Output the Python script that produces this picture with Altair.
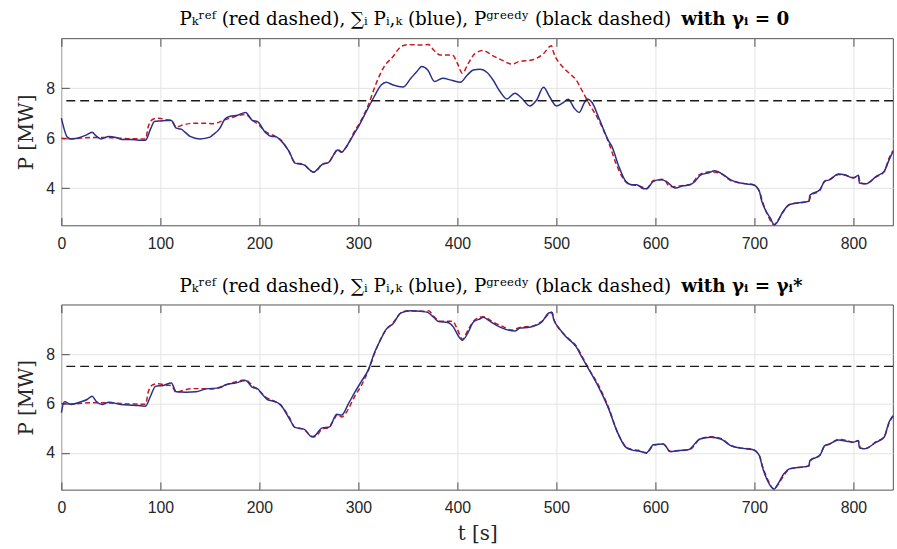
import altair as alt
import pandas as pd

# ---------------- data ----------------
t_ref = [0, 10, 30, 50, 70, 85, 88, 93, 98, 106, 111, 116, 123, 133, 143, 153, 163, 173, 186, 193,
         201, 206, 216, 221, 230, 236, 245, 250, 255, 258, 263, 270, 275, 279, 283, 288, 296, 303,
         310, 318, 326, 335, 343, 350, 363, 371, 376, 383, 395, 400, 405, 411, 418, 426, 436, 445,
         455, 463, 475, 486, 495, 497, 506, 513, 520, 526, 533, 543, 553, 561, 570, 576, 583, 591,
         598, 608, 615, 623, 635, 645, 656, 666, 676, 686, 698, 705, 708, 713, 720, 723, 730, 736,
         750, 755, 757, 766, 771, 776, 785, 793, 800, 805, 807, 812, 823, 831, 836, 840]
p_ref = [6.0, 5.98, 6.03, 6.02, 5.98, 5.97, 6.5, 6.77, 6.8, 6.74, 6.72, 6.45, 6.53, 6.6, 6.6, 6.58,
         6.7, 6.84, 6.95, 6.72, 6.47, 6.27, 6.07, 5.95, 5.45, 5.02, 4.95, 4.75, 4.64, 4.7, 4.95,
         5.03, 5.33, 5.55, 5.45, 5.65, 6.27, 6.73, 7.33, 8.2, 8.87, 9.27, 9.67, 9.75, 9.73, 9.75,
         9.53, 9.33, 9.33, 9.0, 8.6, 9.0, 9.4, 9.51, 9.3, 9.13, 8.97, 9.08, 9.13, 9.35, 9.7, 9.45,
         8.87, 8.6, 8.33, 7.9, 7.38, 6.7, 5.8, 4.9, 4.25, 4.13, 4.1, 3.98, 4.3, 4.35, 4.05, 4.08,
         4.14, 4.55, 4.65, 4.58, 4.3, 4.2, 4.14, 3.88, 3.48, 2.95, 2.53, 2.66, 3.1, 3.35, 3.43,
         3.47, 3.7, 3.9, 4.28, 4.35, 4.54, 4.5, 4.42, 4.5, 4.2, 4.17, 4.45, 4.65, 5.2, 5.5]

t_top = [0, 6, 10, 16, 25, 31, 35, 40, 48, 55, 61, 70, 78, 85, 90, 94, 100, 106, 111, 116, 121,
         126, 130, 140, 150, 153, 160, 165, 170, 178, 186, 193, 198, 206, 213, 216, 221, 230, 236,
         245, 250, 255, 258, 263, 270, 275, 279, 283, 288, 295, 301, 308, 316, 323, 328, 335, 345,
         353, 359, 364, 370, 377, 385, 395, 403, 410, 416, 423, 430, 436, 443, 450, 458, 465, 473,
         480, 487, 493, 500, 506, 512, 518, 523, 528, 531, 536, 543, 553, 556, 563, 570, 576, 581,
         588, 591, 598, 605, 611, 620, 628, 635, 640, 646, 653, 660, 666, 676, 683, 691, 699, 705,
         707, 711, 716, 720, 723, 728, 735, 743, 751, 755, 756, 766, 771, 776, 785, 791, 800, 805,
         806, 813, 823, 831, 836, 840]
p_top = [6.8, 6.04, 5.97, 6.0, 6.12, 6.24, 6.09, 5.97, 6.07, 6.03, 5.95, 5.95, 5.92, 5.92, 6.36,
         6.67, 6.69, 6.71, 6.71, 6.4, 6.36, 6.2, 6.07, 5.97, 6.04, 6.13, 6.39, 6.76, 6.87, 6.92,
         7.03, 6.71, 6.67, 6.23, 6.07, 6.07, 5.93, 5.47, 5.0, 4.93, 4.76, 4.63, 4.73, 4.93, 5.03,
         5.33, 5.53, 5.43, 5.67, 6.13, 6.53, 7.07, 7.67, 8.13, 8.24, 8.13, 8.05, 8.4, 8.67, 8.87,
         8.73, 8.27, 8.4, 8.31, 8.24, 8.53, 8.73, 8.76, 8.63, 8.33, 7.87, 7.57, 7.8, 7.6, 7.29,
         7.53, 8.04, 7.67, 7.29, 7.4, 7.56, 7.2, 7.03, 7.4, 7.57, 7.43, 6.8, 5.87, 5.67, 4.87,
         4.27, 4.13, 4.13, 3.97, 3.97, 4.27, 4.33, 4.27, 4.0, 4.09, 4.13, 4.27, 4.53, 4.6, 4.69,
         4.6, 4.33, 4.23, 4.17, 4.13, 3.87, 3.53, 3.13, 2.8, 2.53, 2.63, 3.0, 3.33, 3.4, 3.44,
         3.47, 3.71, 3.93, 4.27, 4.33, 4.56, 4.53, 4.4, 4.51, 4.2, 4.17, 4.47, 4.67, 5.13, 5.47]

t_bot = [0, 3, 10, 20, 26, 31, 35, 41, 48, 60, 73, 85, 90, 95, 103, 111, 116, 126, 136, 146, 160,
         166, 176, 186, 193, 198, 203, 208, 216, 221, 230, 236, 245, 253, 256, 263, 271, 278, 283,
         290, 296, 303, 310, 316, 323, 328, 335, 343, 353, 363, 370, 376, 381, 391, 396, 401, 405,
         411, 416, 423, 426, 433, 443, 458, 463, 473, 485, 493, 496, 497, 503, 510, 520, 526, 533,
         543, 553, 561, 570, 576, 583, 591, 598, 608, 615, 623, 633, 645, 656, 666, 676, 686, 698,
         705, 708, 713, 720, 723, 730, 736, 750, 755, 756, 766, 771, 776, 785, 793, 800, 805, 806,
         811, 823, 831, 836, 840]
p_bot = [5.63, 6.07, 5.96, 6.07, 6.16, 6.29, 6.09, 5.96, 6.05, 5.96, 5.93, 5.89, 6.29, 6.69, 6.73,
         6.83, 6.47, 6.45, 6.47, 6.59, 6.63, 6.76, 6.83, 6.93, 6.65, 6.6, 6.36, 6.16, 6.07, 5.96,
         5.4, 5.03, 4.96, 4.65, 4.69, 5.0, 5.05, 5.56, 5.53, 5.99, 6.43, 6.89, 7.36, 8.03, 8.63,
         9.0, 9.23, 9.67, 9.75, 9.73, 9.69, 9.49, 9.32, 9.27, 9.09, 8.73, 8.56, 8.89, 9.29, 9.43,
         9.49, 9.32, 9.09, 8.93, 9.05, 9.09, 9.29, 9.67, 9.67, 9.43, 9.03, 8.69, 8.29, 7.85, 7.36,
         6.63, 5.76, 4.89, 4.23, 4.12, 4.07, 4.0, 4.33, 4.36, 4.05, 4.09, 4.12, 4.56, 4.63, 4.56,
         4.29, 4.19, 4.13, 3.89, 3.43, 2.89, 2.53, 2.69, 3.16, 3.36, 3.43, 3.47, 3.69, 3.89, 4.29,
         4.36, 4.52, 4.47, 4.43, 4.49, 4.2, 4.16, 4.43, 4.63, 5.25, 5.5]

p_greedy = [7.5]
x_ticks = [0, 100, 200, 300, 400, 500, 600, 700, 800]
y_ticks = [4, 6, 8]
title_main = "Pₖʳᵉᶠ (red dashed), ∑ᵢ Pᵢ,ₖ (blue), Pᵍʳᵉᵉᵈʸ (black dashed)"
title_bold = ["with γᵢ = 0", "with γᵢ = γᵢ*"]

X_DOMAIN = [0, 840]
Y_DOMAIN = [2.5, 10]
RED = "#c8161d"
BLUE = "#2b2f8c"
AXIS_COLOR = "#262626"
SERIF = "DejaVu Serif"
SANS = "Liberation Sans"


def panel(t_blue, p_blue, bold_text, height, show_xtitle):
    xscale = alt.Scale(domain=X_DOMAIN, nice=False, zero=False)
    yscale = alt.Scale(domain=Y_DOMAIN, nice=False, zero=False)
    xaxis_kw = dict(values=x_ticks, grid=True, offset=-8, tickSize=8, domain=False,
                    labelPadding=10, labelFlush=False, format="d")
    if show_xtitle:
        xaxis_kw.update(title="t [s]", titlePadding=8, titleFont=SERIF, titleFontSize=20,
                        titleFontWeight="normal", titleColor=AXIS_COLOR)
    else:
        xaxis_kw.update(title=None)
    xaxis = alt.Axis(**xaxis_kw)
    yaxis = alt.Axis(values=y_ticks, grid=True, offset=-8, tickSize=8, domain=False,
                     labelPadding=7, labelFlush=False, title="P [MW]", titlePadding=9,
                     titleFont=SERIF, titleFontSize=20, titleFontWeight="normal",
                     titleColor=AXIS_COLOR)

    ref_df = pd.DataFrame({"t": t_ref, "P": p_ref})
    blue_df = pd.DataFrame({"t": t_blue, "P": p_blue})

    red = alt.Chart(ref_df).mark_line(
        color=RED, strokeWidth=1.5, strokeDash=[5, 3], interpolate="monotone"
    ).encode(
        x=alt.X("t:Q", scale=xscale, axis=xaxis),
        y=alt.Y("P:Q", scale=yscale, axis=yaxis),
    )
    blue = alt.Chart(blue_df).mark_line(
        color=BLUE, strokeWidth=1.5, interpolate="monotone"
    ).encode(
        x=alt.X("t:Q", scale=xscale,
                axis=alt.Axis(orient="top", values=x_ticks, offset=-8, tickSize=8,
                              labels=False, domain=False, grid=False, title=None)),
        y=alt.Y("P:Q", scale=yscale, axis=None),
    )
    greedy = alt.Chart(pd.DataFrame({"P": p_greedy})).mark_rule(
        color="#1a1a1a", strokeWidth=1.3, strokeDash=[9, 5]
    ).encode(y=alt.Y("P:Q", scale=yscale, axis=None))

    t1 = alt.Chart(pd.DataFrame({"label": [title_main]})).mark_text(
        font=SERIF, fontSize=18.5, align="right", baseline="alphabetic", color="black"
    ).encode(text="label:N", x=alt.value(616), y=alt.value(-13))
    t2 = alt.Chart(pd.DataFrame({"label": [bold_text]})).mark_text(
        font=SERIF, fontSize=18.5, fontWeight="bold", align="left", baseline="alphabetic",
        color="black"
    ).encode(text="label:N", x=alt.value(626), y=alt.value(-13))

    return alt.layer(red, blue, greedy, t1, t2).resolve_axis(
        x="independent", y="independent"
    ).properties(width=840, height=height)


top = panel(t_top, p_top, title_bold[0], 189, False)
bottom = panel(t_bot, p_bot, title_bold[1], 187, True)

chart = alt.vconcat(top, bottom, spacing=80, bounds="flush").properties(
    padding={"left": 16, "top": 7, "right": 0, "bottom": 0},
).configure_view(
    stroke=AXIS_COLOR, strokeWidth=0.8
).configure_axis(
    labelFont=SANS, labelFontSize=16, labelColor=AXIS_COLOR,
    tickColor=AXIS_COLOR, tickWidth=0.8,
    gridColor="#e3e3e3", gridWidth=1,
)

chart.save("out.html", embed_options={"renderer": "svg", "actions": False})
